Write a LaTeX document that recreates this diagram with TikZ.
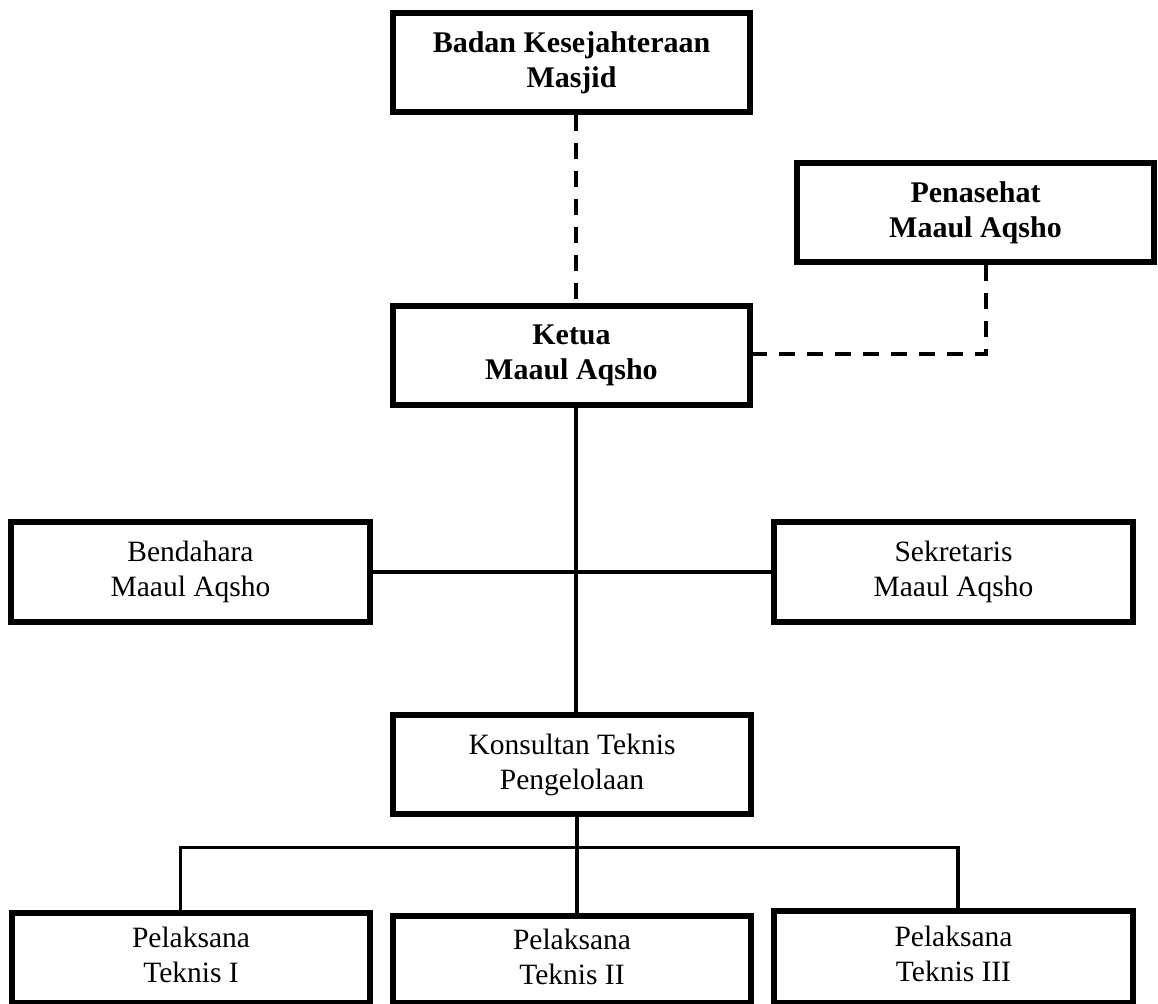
\documentclass[tikz,border=0pt]{standalone}
\usepackage{fontspec}
\setmainfont{Liberation Serif}
\begin{document}
\begin{tikzpicture}[x=1pt,y=-1pt,
  orgbox/.style={draw=black, line width=6pt, inner sep=0pt, align=center,
    font=\fontsize{29.5}{35}\selectfont},
  boldbox/.style={orgbox, font=\fontsize{30}{35}\selectfont\bfseries},
  solidline/.style={line width=3.5pt},
  dashline/.style={line width=4pt, dash pattern=on 16pt off 12pt}]
\useasboundingbox (0,0) rectangle (1158,1003);
% boxes
\node[boldbox, minimum width=357pt, minimum height=99pt] (bkm) at (571.5,62.5) {Badan Kesejahteraan\\Masjid};
\node[boldbox, minimum width=357pt, minimum height=99pt] (pen) at (975.5,212.5) {Penasehat\\Maaul Aqsho};
\node[boldbox, minimum width=357pt, minimum height=99pt] (ketua) at (571.5,355.5) {Ketua\\Maaul Aqsho};
\node[orgbox, minimum width=359pt, minimum height=100pt] (bend) at (190.5,572) {Bendahara\\Maaul Aqsho};
\node[orgbox, minimum width=359pt, minimum height=100pt] (sek) at (953.5,572) {Sekretaris\\Maaul Aqsho};
\node[orgbox, minimum width=358pt, minimum height=99pt] (kons) at (572,764.5) {Konsultan Teknis\\Pengelolaan};
\node[orgbox, minimum width=358pt, minimum height=90pt] (p1) at (191,958) {Pelaksana\\Teknis I\vphantom{g}};
\node[orgbox, minimum width=358pt, minimum height=87pt] (p2) at (572,959.5) {Pelaksana\\Teknis II\vphantom{g}};
\node[orgbox, minimum width=359pt, minimum height=92pt] (p3) at (953.5,957) {Pelaksana\\Teknis III\vphantom{g}};
% helper coordinates
\coordinate (spine) at (576,0);
\coordinate (pencorner) at (985.5,354);
\coordinate (busl) at (180.5,847.5);
\coordinate (busc) at (577,847.5);
\coordinate (busr) at (958,847.5);
% dashed connectors
\draw[dashline] (bkm.south -| spine) -- (ketua.north -| spine);
\draw[dashline] (pen.south -| pencorner) -- (pencorner) -- (pencorner -| ketua.east);
% solid connectors
\draw[solidline] (ketua.south -| spine) -- (kons.north -| spine);
\draw[solidline] (bend.east) -- (sek.west);
\draw[solidline] (kons.south -| busc) -- (busc);
\draw[solidline, line cap=rect] (busl) -- (busr);
\draw[solidline] (busl) -- (p1.north -| busl);
\draw[solidline] (busc) -- (p2.north -| busc);
\draw[solidline] (busr) -- (p3.north -| busr);
\end{tikzpicture}
\end{document}
